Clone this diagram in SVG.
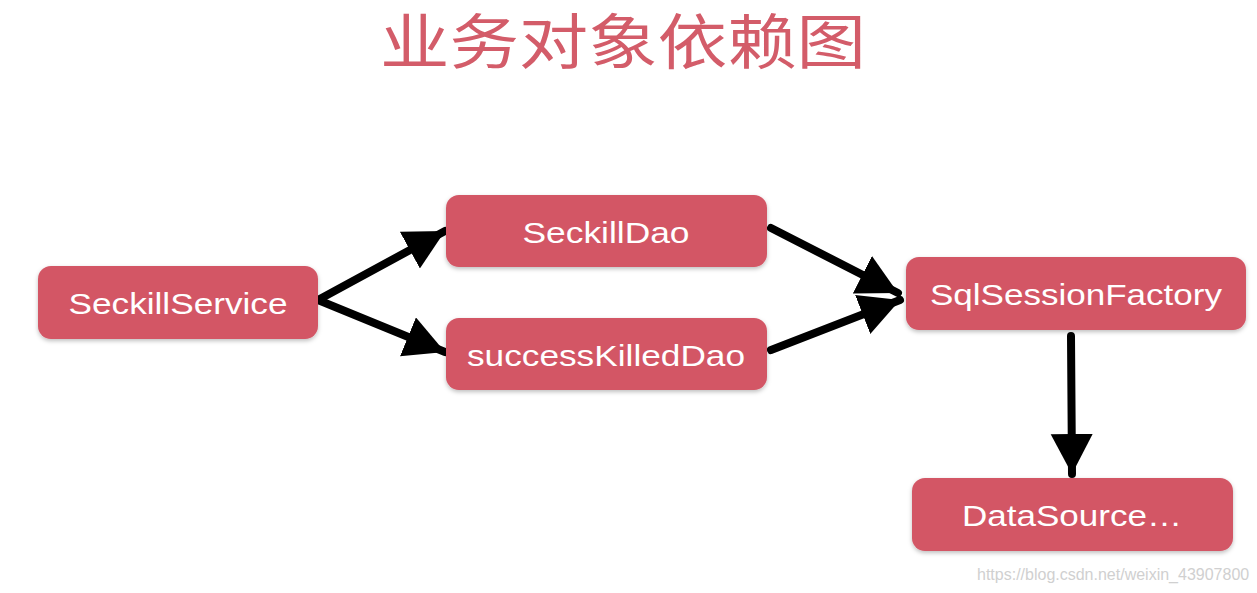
<svg xmlns="http://www.w3.org/2000/svg" width="1257" height="593" viewBox="0 0 1257 593">
<style>
.box{fill:#d35665;}
.lbl{fill:#ffffff;font-family:"Liberation Sans",Arial,sans-serif;font-size:30px;text-anchor:middle;dominant-baseline:central;}
.title{fill:#d35c69;font-family:"Noto Sans CJK SC","Noto Sans CJK JP",sans-serif;font-size:60px;font-weight:400;}
.edge{stroke:#000;stroke-width:8;fill:none;stroke-linecap:round;marker-end:url(#ah);}
.wm{fill:#d0d0d0;font-family:"Liberation Sans",Arial,sans-serif;font-size:16px;}
</style>
<defs>
<filter id="sh" x="-10%" y="-20%" width="120%" height="150%">
<feDropShadow dx="0" dy="2" stdDeviation="2" flood-color="#000" flood-opacity="0.25"/>
</filter>
<marker id="ah" markerUnits="userSpaceOnUse" markerWidth="46" markerHeight="46" refX="40" refY="21" orient="auto" viewBox="0 0 46 46">
<path d="M0,0 L40,21 L0,42 z" fill="#000"/>
</marker>
</defs>
<rect width="1257" height="593" fill="#ffffff"/>
<text class="title" x="380" y="64" textLength="486" lengthAdjust="spacingAndGlyphs">业务对象依赖图</text>
<g id="connectors">
<path class="edge" d="M318,300 L445,231"/>
<path class="edge" d="M318,300 L445,352"/>
<path class="edge" d="M771,228 L898,293"/>
<path class="edge" d="M771,350 L900,300"/>
<path class="edge" d="M1071,336 L1072,474"/>
</g>
<g id="SeckillService"><rect class="box" filter="url(#sh)" x="38" y="266" width="280" height="73" rx="13"/><text class="lbl" x="178" y="303" textLength="219" lengthAdjust="spacingAndGlyphs">SeckillService</text></g>
<g id="SeckillDao"><rect class="box" filter="url(#sh)" x="446" y="195" width="321" height="72" rx="13"/><text class="lbl" x="606" y="232" textLength="167" lengthAdjust="spacingAndGlyphs">SeckillDao</text></g>
<g id="successKilledDao"><rect class="box" filter="url(#sh)" x="446" y="318" width="321" height="72" rx="13"/><text class="lbl" x="606" y="355" textLength="278" lengthAdjust="spacingAndGlyphs">successKilledDao</text></g>
<g id="SqlSessionFactory"><rect class="box" filter="url(#sh)" x="906" y="257" width="340" height="73" rx="13"/><text class="lbl" x="1076" y="294" textLength="292" lengthAdjust="spacingAndGlyphs">SqlSessionFactory</text></g>
<g id="DataSource"><rect class="box" filter="url(#sh)" x="912" y="478" width="321" height="73" rx="13"/><text class="lbl" x="1072" y="515" textLength="220" lengthAdjust="spacingAndGlyphs">DataSource…</text></g>
<text class="wm" x="977" y="580">https://blog.csdn.net/weixin_43907800</text>
</svg>
